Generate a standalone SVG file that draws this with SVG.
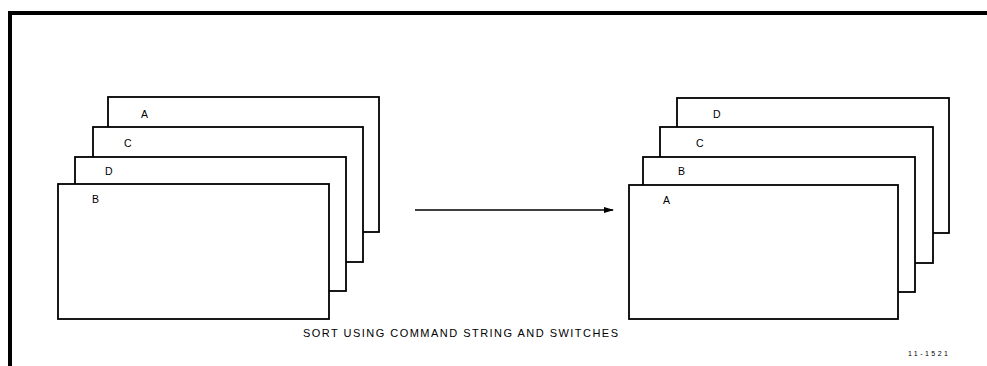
<svg xmlns="http://www.w3.org/2000/svg" width="987" height="366" viewBox="0 0 987 366">
<style>
.card{fill:#fff;stroke:#000;stroke-width:1.8}
.lbl{font-family:"Liberation Sans",Arial,sans-serif;font-size:10.5px;fill:#000}
.cap{font-family:"Liberation Sans",Arial,sans-serif;font-size:11px;fill:#000}
</style>
<defs>
<marker id="ah" markerWidth="10" markerHeight="8" refX="9" refY="4" orient="auto" markerUnits="userSpaceOnUse">
<path d="M0,1 L10,4 L0,7 Z" fill="#000"/>
</marker>
</defs>
<rect width="987" height="366" fill="#fff"/>
<path d="M10,366 V13 H987" fill="none" stroke="#000" stroke-width="4"/>
<g id="left-stack">
<g id="left-A"><rect class="card" x="108" y="97" width="271" height="135"/><text class="lbl" x="141" y="118">A</text></g>
<g id="left-C"><rect class="card" x="93" y="127" width="270" height="135"/><text class="lbl" x="124" y="147">C</text></g>
<g id="left-D"><rect class="card" x="75" y="157" width="271" height="134"/><text class="lbl" x="105" y="175">D</text></g>
<g id="left-B"><rect class="card" x="58" y="184" width="271" height="135"/><text class="lbl" x="92" y="203">B</text></g>
</g>
<g id="right-stack">
<g id="right-D"><rect class="card" x="677" y="98" width="272" height="135"/><text class="lbl" x="713" y="118">D</text></g>
<g id="right-C"><rect class="card" x="660" y="127" width="273" height="136"/><text class="lbl" x="696" y="147">C</text></g>
<g id="right-B"><rect class="card" x="643" y="157" width="272" height="135"/><text class="lbl" x="678" y="175">B</text></g>
<g id="right-A"><rect class="card" x="629" y="185" width="269" height="134"/><text class="lbl" x="663" y="204">A</text></g>
</g>
<g id="connectors">
<line x1="415" y1="210" x2="613" y2="210" stroke="#000" stroke-width="1.5" marker-end="url(#ah)"/>
</g>
<text class="cap" x="303" y="337" textLength="315" lengthAdjust="spacing">SORT USING COMMAND STRING AND SWITCHES</text>
<text x="908" y="356" font-family="'Liberation Sans',Arial,sans-serif" font-size="7" textLength="40" lengthAdjust="spacing">11-1521</text>
</svg>
